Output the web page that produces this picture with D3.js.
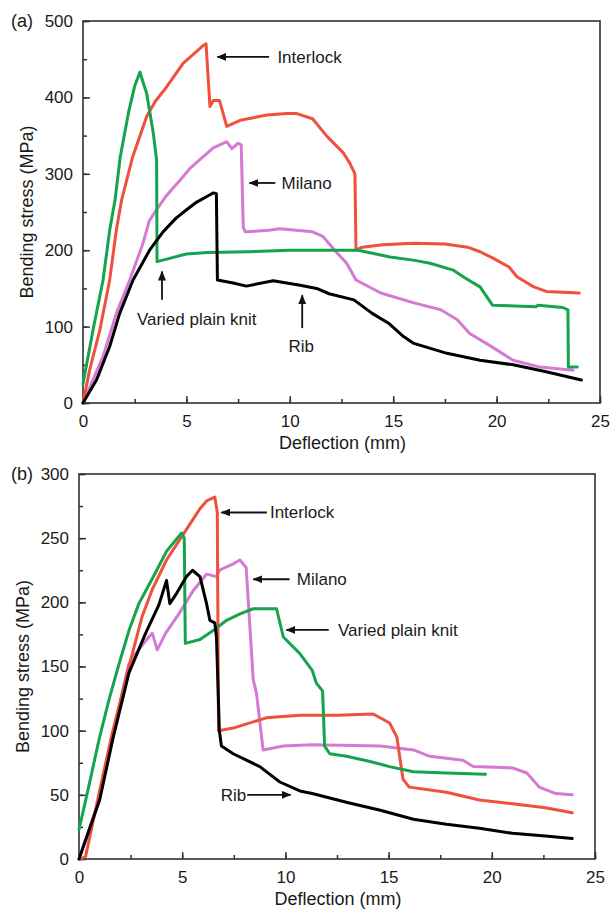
<!DOCTYPE html>
<html>
<head>
<meta charset="utf-8">
<script src="https://cdn.jsdelivr.net/npm/d3@7"></script>
<style>
  body { margin: 0; background: #fff; }
  svg { display: block; font-family: "Liberation Sans", Arial, sans-serif; }
  .tick text { font-size: 17px; fill: #1a1a1a; }
  .curve { fill: none; stroke-width: 3; stroke-linejoin: round; stroke-linecap: round; }
</style>
</head>
<body>
<script>
// panel (a) curves, [deflection mm, stress MPa]
const aInterlock = [[0,0],[0.32,43],[0.81,95],[1.29,161],[1.61,226],[1.87,266],[2.4,322],[3.08,375],[3.5,395],[4.05,414],[4.85,445],[5.4,458],[5.82,468],[5.95,470],[6.14,388],[6.3,396],[6.6,396],[6.95,362],[7.6,370],[8.9,377],[9.85,379],[10.3,379],[11.1,372],[11.8,349],[12.6,327],[12.9,314],[13.15,300],[13.2,200],[13.5,204],[14.5,207],[16,209],[17.5,208],[18.6,204],[19.2,198],[19.8,190],[20.6,178],[21,165],[21.8,152],[22.4,146],[23.2,145],[24,144]];
const aMilano = [[0,0],[0.97,61],[1.61,117],[2.26,161],[2.9,209],[3.2,238],[3.48,250],[4.05,272],[4.7,292],[5.17,307],[6.3,334],[6.95,342],[7.2,333],[7.5,340],[7.65,338],[7.75,230],[7.85,224],[9,226],[9.5,228],[11.1,224],[11.6,218],[12.3,196],[12.75,183],[13.2,161],[14.4,144],[16,131],[17.3,122],[18.1,109],[18.7,91],[19.5,78],[20.8,56],[22.1,47],[23.7,43]];
const aVaried = [[0,25],[0.48,95],[0.97,161],[1.29,226],[1.55,266],[1.8,322],[2.2,380],[2.5,415],[2.75,433],[3.08,405],[3.4,353],[3.56,318],[3.58,185],[4,188],[5,195],[6,197],[8,198],[10,200],[12,200],[13.3,200],[14.85,191],[15.97,187],[16.78,183],[17.9,174],[18.4,165],[19.2,152],[19.8,128],[21.9,126],[22,128],[23.2,125],[23.45,122],[23.47,47],[23.9,47]];
const aRib = [[0,0],[0.65,30],[1.29,74],[1.77,117],[2.42,161],[3.22,200],[3.87,224],[4.5,242],[5.01,253],[5.5,263],[6.1,272],[6.3,275],[6.45,274],[6.5,161],[7.26,157],[7.9,153],[9.2,160],[10.5,154],[11.3,150],[11.9,143],[13.1,135],[14,117],[14.8,104],[15.5,87],[16,78],[17.6,65],[19.2,56],[20.8,50],[22.4,41],[24.1,30]];

// panel (b) curves
const bInterlock = [[0.1,0],[0.32,2],[0.97,51],[1.61,98],[2.42,150],[3.06,189],[3.55,210],[4.24,233],[5.05,253],[5.86,273],[6.18,279],[6.58,282],[6.7,270],[6.76,100],[7.47,102],[9.08,110],[10.7,112],[12.5,112],[14.25,113],[15.05,106],[15.4,95],[15.7,62],[16,56],[17.8,52],[19.4,46],[21,43],[22.6,40],[23.9,36]];
const bMilano = [[0,0],[0.97,46],[1.61,93],[2.26,142],[2.42,152],[2.74,160],[3.23,170],[3.55,176],[3.79,163],[4.2,176],[4.84,191],[5.53,209],[6.18,222],[6.66,220],[6.8,225],[7.47,230],[7.8,233],[8.1,227],[8.44,140],[8.6,129],[8.92,85],[9.9,88],[11.3,89],[14.6,88],[16.2,85],[17,80],[18.6,77],[19.1,72],[21,71],[21.7,67],[22.3,56],[23.1,51],[23.9,50]];
const bVaried = [[0,23],[0.48,57],[0.97,93],[1.45,124],[1.94,152],[2.42,178],[2.9,199],[3.6,220],[4.25,240],[4.97,254],[5.1,250],[5.15,168],[5.86,171],[6.5,178],[7.15,186],[7.8,191],[8.44,195],[9.57,195],[9.9,173],[10.7,160],[11.3,147],[11.5,137],[11.8,131],[11.9,88],[12.15,82],[12.96,80],[14.1,76],[15.05,72],[16.2,68],[17.8,67],[19.7,66]];
const bRib = [[0,0],[1,46],[1.66,95],[2.42,145],[3.23,176],[3.87,198],[4.24,217],[4.4,199],[4.73,207],[5.2,220],[5.5,225],[5.86,220],[6.18,199],[6.34,186],[6.58,184],[6.66,173],[6.8,100],[6.9,88],[7.47,82],[8.76,72],[9.73,60],[10.7,53],[11.3,51],[13,44],[14.6,38],[16.2,31],[17.8,27],[19.4,24],[21,20],[22.6,18],[23.9,16]];

const xTicks = [0, 5, 10, 15, 20, 25];
const aYTicks = [0, 100, 200, 300, 400, 500];
const bYTicks = [0, 50, 100, 150, 200, 250, 300];

const colors = { Interlock: '#f0503c', Milano: '#d47ad4', Varied: '#16a34e', Rib: '#000' };

const svg = d3.select('body').append('svg')
  .attr('width', 611)
  .attr('height', 911);

const defs = svg.append('defs');
defs.append('marker')
  .attr('id', 'head')
  .attr('viewBox', '0 0 10 8')
  .attr('refX', 9).attr('refY', 4)
  .attr('markerWidth', 10).attr('markerHeight', 8)
  .attr('markerUnits', 'userSpaceOnUse')
  .attr('orient', 'auto')
  .append('path').attr('d', 'M0,0L10,4L0,8Z').attr('fill', '#111');

const panel = (o) => {
  const x = d3.scaleLinear().domain([0, 25]).range([o.left, o.right]);
  const y = d3.scaleLinear().domain([0, o.ymax]).range([o.bottom, o.top]);
  const g = svg.append('g');

  // box
  g.append('rect')
    .attr('x', o.left).attr('y', o.top)
    .attr('width', o.right - o.left).attr('height', o.bottom - o.top)
    .attr('fill', 'none').attr('stroke', '#2b3438').attr('stroke-width', 1.6);

  // axes, ticks drawn inward
  const xMinor = d3.range(0, 25.01, 2.5);
  g.append('g')
    .attr('transform', `translate(0,${o.bottom})`)
    .call(d3.axisBottom(x).tickValues(xMinor).tickSize(-4).tickFormat(''))
    .call(a => a.select('.domain').remove());
  g.append('g')
    .attr('transform', `translate(0,${o.bottom})`)
    .call(d3.axisBottom(x).tickValues(xTicks).tickSize(-7).tickPadding(12).tickFormat(d3.format('d')))
    .call(a => a.select('.domain').remove());
  g.append('g')
    .attr('transform', `translate(${o.left},0)`)
    .call(d3.axisLeft(y).tickValues(d3.range(0, o.ymax + 0.1, o.ystep / 2)).tickSize(-4).tickFormat(''))
    .call(a => a.select('.domain').remove());
  g.append('g')
    .attr('transform', `translate(${o.left},0)`)
    .call(d3.axisLeft(y).tickValues(o.yTicks).tickSize(-7).tickPadding(10).tickFormat(d3.format('d')))
    .call(a => a.select('.domain').remove());
  g.selectAll('.tick line').attr('stroke', '#2b3438').attr('stroke-width', 1.5);
  g.selectAll('.tick text').attr('font-size', 17);

  g.append('text')
    .attr('x', (o.left + o.right) / 2 + 1).attr('y', o.bottom + 46)
    .attr('text-anchor', 'middle').attr('font-size', 18).attr('fill', '#1a1a1a')
    .text('Deflection (mm)');
  g.append('text')
    .attr('transform', `translate(${o.left - 50},${(o.top + o.bottom) / 2}) rotate(-90)`)
    .attr('text-anchor', 'middle').attr('font-size', 18).attr('fill', '#1a1a1a')
    .text('Bending stress (MPa)');
  g.append('text')
    .attr('x', 11).attr('y', o.top + 6)
    .attr('font-size', 18).attr('fill', '#1a1a1a')
    .text(o.tag);

  const line = d3.line().x(d => x(d[0])).y(d => y(d[1]));
  o.series.forEach(s => {
    g.append('path')
      .datum(s.values)
      .attr('class', 'curve')
      .attr('stroke', colors[s.key])
      .attr('d', line);
  });

  // annotations: arrow from [x1,y1] to head at [x2,y2]
  o.notes.forEach(n => {
    g.append('line')
      .attr('x1', x(n.from[0])).attr('y1', y(n.from[1]))
      .attr('x2', x(n.to[0])).attr('y2', y(n.to[1]))
      .attr('stroke', '#111').attr('stroke-width', 1.8)
      .attr('marker-end', 'url(#head)');
    g.append('text')
      .attr('x', x(n.at[0])).attr('y', y(n.at[1]))
      .attr('dy', '0.35em')
      .attr('text-anchor', n.anchor || 'start')
      .attr('font-size', 17).attr('fill', '#1a1a1a')
      .text(n.text);
  });
};

panel({
  left: 83, right: 600, top: 21, bottom: 403, ymax: 500, ystep: 100, yTicks: aYTicks, tag: '(a)',
  series: [
    { key: 'Milano', values: aMilano },
    { key: 'Interlock', values: aInterlock },
    { key: 'Varied', values: aVaried },
    { key: 'Rib', values: aRib }
  ],
  notes: [
    { text: 'Interlock', from: [9.0, 453], to: [6.5, 453], at: [9.4, 453] },
    { text: 'Milano', from: [9.3, 288], to: [8.05, 288], at: [9.6, 288] },
    { text: 'Varied plain knit', from: [3.82, 135], to: [3.82, 172], at: [5.5, 110], anchor: 'middle' },
    { text: 'Rib', from: [10.6, 98], to: [10.6, 141], at: [10.55, 75], anchor: 'middle' }
  ]
});

panel({
  left: 79, right: 595, top: 474, bottom: 859, ymax: 300, ystep: 50, yTicks: bYTicks, tag: '(b)',
  series: [
    { key: 'Milano', values: bMilano },
    { key: 'Interlock', values: bInterlock },
    { key: 'Varied', values: bVaried },
    { key: 'Rib', values: bRib }
  ],
  notes: [
    { text: 'Interlock', from: [9.1, 270], to: [6.9, 270], at: [9.25, 270] },
    { text: 'Milano', from: [10.2, 218], to: [8.45, 218], at: [10.55, 218] },
    { text: 'Varied plain knit', from: [12.1, 178.5], to: [10.05, 178.5], at: [12.55, 178.5] },
    { text: 'Rib', from: [8.15, 50], to: [10.25, 50], at: [8.1, 50], anchor: 'end' }
  ]
});
</script>
</body>
</html>
